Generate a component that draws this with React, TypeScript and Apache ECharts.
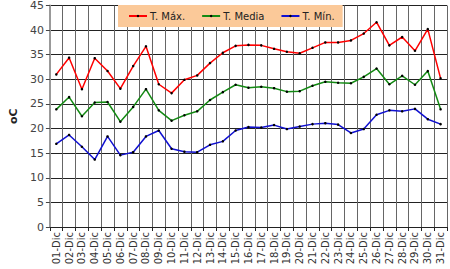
import React, { useEffect, useRef } from "react";
import * as echarts from "echarts";

const days: string[] = [
  "01-Dic","02-Dic","03-Dic","04-Dic","05-Dic","06-Dic","07-Dic","08-Dic","09-Dic","10-Dic",
  "11-Dic","12-Dic","13-Dic","14-Dic","15-Dic","16-Dic","17-Dic","18-Dic","19-Dic","20-Dic",
  "21-Dic","22-Dic","23-Dic","24-Dic","25-Dic","26-Dic","27-Dic","28-Dic","29-Dic","30-Dic","31-Dic",
];

const tMax: number[] = [
  31.0, 34.4, 28.0, 34.3, 31.7, 28.1, 32.7, 36.7,
  29.0, 27.2, 29.9, 30.8, 33.3, 35.4, 36.8, 37.0,
  36.9, 36.2, 35.6, 35.3, 36.4, 37.5, 37.5, 37.9,
  39.3, 41.6, 36.9, 38.6, 35.8, 40.2, 30.2,
];

const tMedia: number[] = [
  23.9, 26.4, 22.5, 25.3, 25.4, 21.4, 24.4, 28.0,
  23.7, 21.6, 22.7, 23.5, 25.8, 27.4, 28.9, 28.3,
  28.5, 28.2, 27.5, 27.6, 28.7, 29.5, 29.3, 29.2,
  30.5, 32.2, 29.0, 30.7, 28.9, 31.7, 23.9,
];

const tMin: number[] = [
  16.9, 18.7, 16.3, 13.7, 18.4, 14.6, 15.2, 18.4,
  19.6, 15.9, 15.3, 15.2, 16.7, 17.4, 19.6, 20.3,
  20.2, 20.7, 19.9, 20.4, 20.9, 21.1, 20.8, 19.1,
  19.9, 22.8, 23.7, 23.5, 24.0, 21.9, 20.9,
];

const seriesNames: string[] = ["T. Máx.", "T. Media", "T. Mín."];
const seriesColors: string[] = ["#ff0000", "#138a13", "#1010d0"];

const FONT = "DejaVu Sans";

export default function App() {
  const ref = useRef<HTMLDivElement>(null);
  useEffect(() => {
    if (!ref.current) return;
    const chart = echarts.init(ref.current, undefined, { renderer: "svg" });
    const datas = [tMax, tMedia, tMin];
    chart.setOption({
      animation: false,
      backgroundColor: "#ffffff",
      grid: { left: 37, right: 3, top: 4, bottom: 42, containLabel: false },
      legend: {
        data: seriesNames,
        left: 118,
        top: 5,
        padding: [6, 8, 6, 10],
        backgroundColor: "#fbc999",
        itemWidth: 18,
        itemHeight: 3,
        itemGap: 16,
        textStyle: { fontFamily: FONT, fontSize: 10, color: "#222", padding: [0, 0, 0, -2] },
      },
      xAxis: {
        type: "category",
        data: days,
        boundaryGap: true,
        axisLine: { lineStyle: { color: "#222", width: 1 } },
        axisTick: { show: true, length: 4, interval: 0, lineStyle: { color: "#222" } },
        axisLabel: {
          interval: 0,
          rotate: 90,
          margin: 5,
          fontFamily: FONT,
          fontSize: 10,
          color: "#333",
        },
        splitLine: { show: true, interval: 0, lineStyle: { color: "#666", width: 1 } },
      },
      yAxis: {
        type: "value",
        min: 0,
        max: 45,
        interval: 5,
        name: "oC",
        nameLocation: "middle",
        nameGap: 28,
        nameTextStyle: { fontFamily: FONT, fontSize: 11, fontWeight: "bold", color: "#222" },
        axisLine: { show: true, lineStyle: { color: "#999", width: 2 } },
        axisTick: { show: true, inside: false, length: 4, lineStyle: { color: "#444" } },
        axisLabel: { fontFamily: FONT, fontSize: 11, color: "#444", margin: 6 },
        splitLine: { show: true, lineStyle: { color: "#222", width: 1 } },
      },
      series: datas.map((d, i) => ({
        name: seriesNames[i],
        type: "line",
        data: d,
        symbol: "circle",
        symbolSize: 2.5,
        showSymbol: true,
        itemStyle: { color: "#000" },
        lineStyle: { color: seriesColors[i], width: 1.5 },
      })),
    });
    return () => chart.dispose();
  }, []);
  return <div ref={ref} style={{ width: 450, height: 269, position: "absolute", left: 0, top: 0 }} />;
}
